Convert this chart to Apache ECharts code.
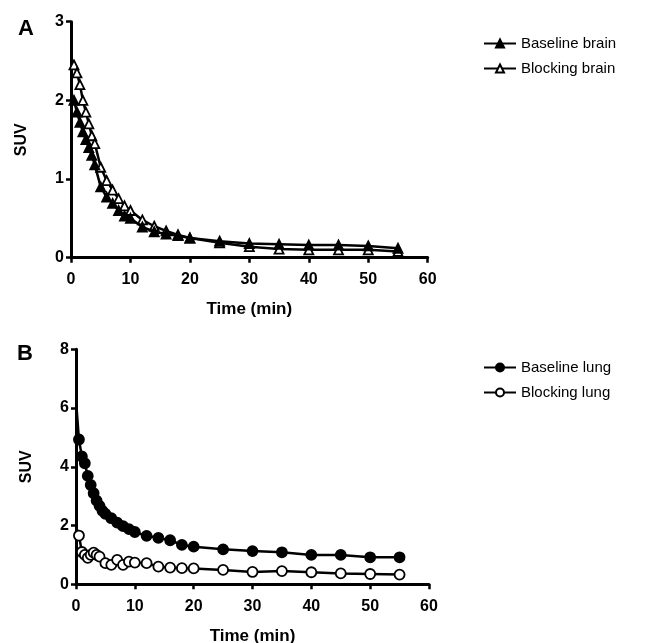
<!DOCTYPE html>
<html>
<head>
<meta charset="utf-8">
<script src="https://cdn.jsdelivr.net/npm/echarts@6/dist/echarts.min.js"></script>
<style>html,body{margin:0;padding:0;background:#fff}#c{width:647px;height:643px}</style>
</head>
<body>
<div id="c"></div>
<script>
const timesBrain = [0.5,1,1.5,2,2.5,3,3.5,4,5,6,7,8,9,10,12,14,16,18,20,25,30,35,40,45,50,55];
const baselineBrain = [2.0,1.85,1.72,1.6,1.5,1.4,1.3,1.18,0.9,0.77,0.69,0.6,0.53,0.5,0.39,0.33,0.3,0.28,0.25,0.21,0.18,0.17,0.16,0.16,0.15,0.12];
const blockingBrain = [2.45,2.35,2.2,2.0,1.85,1.7,1.55,1.45,1.15,0.98,0.86,0.75,0.66,0.6,0.48,0.4,0.34,0.29,0.25,0.19,0.14,0.11,0.1,0.1,0.1,0.08];

const timesLungBase = [0.1,0.5,1,1.5,2,2.5,3,3.5,4,4.5,5,6,7,8,9,10,12,14,16,18,20,25,30,35,40,45,50,55];
const baselineLung = [6.0,4.93,4.35,4.12,3.69,3.38,3.1,2.85,2.67,2.5,2.4,2.25,2.1,1.98,1.88,1.78,1.65,1.58,1.5,1.34,1.28,1.19,1.13,1.09,1.0,1.0,0.92,0.92];
const timesLungBlock = [0.1,0.5,1,1.5,2,2.5,3,3.5,4,5,6,7,8,9,10,12,14,16,18,20,25,30,35,40,45,50,55];
const blockingLung = [1.9,1.66,1.1,1.0,0.9,1.0,1.08,1.0,0.94,0.72,0.66,0.83,0.66,0.77,0.74,0.72,0.6,0.57,0.55,0.54,0.49,0.42,0.45,0.41,0.37,0.35,0.33];

const FONT = "'Liberation Sans', Arial, sans-serif";

function pairs(t, v, hideBelow) {
  return t.map((x, i) => {
    const item = { value: [x, v[i]] };
    if (x < hideBelow) item.symbolSize = 0;
    return item;
  });
}

function xAxisCfg(gridIndex, nameGap) {
  return {
    type: 'value', gridIndex, min: 0, max: 60, interval: 10,
    name: 'Time (min)', nameLocation: 'middle', nameGap,
    nameTextStyle: { fontFamily: FONT, fontWeight: 'bold', fontSize: 17, color: '#000' },
    axisLine: { show: true, lineStyle: { color: '#000', width: 3 } },
    axisTick: { show: true, length: 5, lineStyle: { color: '#000', width: 2.5 } },
    axisLabel: { fontFamily: FONT, fontWeight: 'bold', fontSize: 16, color: '#000', margin: 14 },
    splitLine: { show: false }
  };
}
function yAxisCfg(gridIndex, max, interval) {
  return {
    type: 'value', gridIndex, min: 0, max, interval,
    name: 'SUV', nameLocation: 'middle', nameGap: 41,
    nameTextStyle: { fontFamily: FONT, fontWeight: 'bold', fontSize: 16, color: '#000' },
    axisLine: { show: true, lineStyle: { color: '#000', width: 3 } },
    axisTick: { show: true, length: 5, lineStyle: { color: '#000', width: 2.5 } },
    axisLabel: { fontFamily: FONT, fontWeight: 'bold', fontSize: 16, color: '#000', margin: 7 },
    splitLine: { show: false }
  };
}

function series(name, xi, data, symbol, filled) {
  return {
    name, type: 'line', xAxisIndex: xi, yAxisIndex: xi, data,
    symbol, symbolSize: symbol === 'circle' ? 10 : 9,
    showAllSymbol: true,
    lineStyle: { color: '#000', width: 2.5 },
    itemStyle: { color: filled ? '#000' : '#fff', borderColor: '#000', borderWidth: 1.8 },
    emphasis: { disabled: true },
    animation: false, z: filled ? 3 : 2
  };
}

const legendText = { fontFamily: FONT, fontSize: 15, color: '#000', lineHeight: 17 };

const option = {
  animation: false,
  backgroundColor: '#fff',
  grid: [
    { left: 71, top: 21.7, width: 356.7, height: 236, outerBoundsMode: 'none', containLabel: false },
    { left: 76, top: 349.3, width: 353, height: 235, outerBoundsMode: 'none', containLabel: false }
  ],
  xAxis: [xAxisCfg(0, 43), xAxisCfg(1, 44)],
  yAxis: [yAxisCfg(0, 3, 1), yAxisCfg(1, 8, 2)],
  legend: [
    { data: ['Baseline brain', 'Blocking brain'], orient: 'vertical', left: 478, top: 30,
      itemWidth: 32, itemHeight: 10, itemGap: 8, textStyle: legendText, selectedMode: false },
    { data: ['Baseline lung', 'Blocking lung'], orient: 'vertical', left: 478, top: 354,
      itemWidth: 32, itemHeight: 10, itemGap: 8, textStyle: legendText, selectedMode: false }
  ],
  graphic: [
    { type: 'text', left: 18, top: 18, style: { text: 'A', font: "bold 22px " + FONT, fill: '#000' } },
    { type: 'text', left: 17, top: 343, style: { text: 'B', font: "bold 22px " + FONT, fill: '#000' } }
  ],
  series: [
    series('Blocking brain', 0, pairs(timesBrain, blockingBrain, 0), 'triangle', false),
    series('Baseline brain', 0, pairs(timesBrain, baselineBrain, 0), 'triangle', true),
    series('Blocking lung', 1, pairs(timesLungBlock, blockingLung, 0.3), 'circle', false),
    series('Baseline lung', 1, pairs(timesLungBase, baselineLung, 0.3), 'circle', true)
  ]
};

const chart = echarts.init(document.getElementById('c'), null, { renderer: 'canvas' });
chart.setOption(option);
</script>
</body>
</html>
